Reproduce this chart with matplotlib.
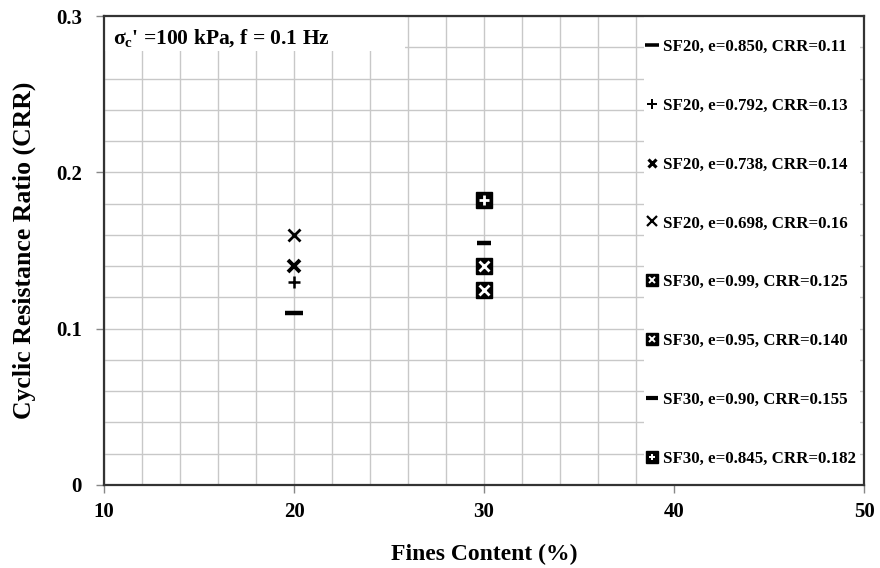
import matplotlib
matplotlib.use("Agg")
import matplotlib.pyplot as plt
from matplotlib.patches import Rectangle
from matplotlib.legend_handler import HandlerTuple
from matplotlib.lines import Line2D
from matplotlib.ticker import MultipleLocator

plt.rcParams['font.family'] = ['Liberation Serif', 'DejaVu Serif']
plt.rcParams['font.weight'] = 'bold'
plt.rcParams['mathtext.fontset'] = 'custom'
plt.rcParams['mathtext.rm'] = 'Liberation Serif:bold'
plt.rcParams['mathtext.it'] = 'Liberation Serif:bold'
plt.rcParams['mathtext.bf'] = 'Liberation Serif:bold'

# Data
fc_sf20 = [20, 20, 20, 20]
crr_sf20 = [0.11, 0.13, 0.14, 0.16]
labels_sf20 = ["SF20, e=0.850, CRR=0.11", "SF20, e=0.792, CRR=0.13",
               "SF20, e=0.738, CRR=0.14", "SF20, e=0.698, CRR=0.16"]
fc_sf30 = [30, 30, 30, 30]
crr_sf30 = [0.125, 0.140, 0.155, 0.182]
labels_sf30 = ["SF30, e=0.99, CRR=0.125", "SF30, e=0.95, CRR=0.140",
               "SF30, e=0.90, CRR=0.155", "SF30, e=0.845, CRR=0.182"]
xticks = [10, 20, 30, 40, 50]
yticks = [0, 0.1, 0.2, 0.3]
ytick_labels = ["0", "0.1", "0.2", "0.3"]

fig = plt.figure(figsize=(8.8, 5.68), dpi=100)
ax = fig.add_axes([104/880, 1-485/568, 760/880, 469/568])
ax.set_xlim(10, 50)
ax.set_ylim(0, 0.3)

ax.xaxis.set_minor_locator(MultipleLocator(2))
ax.yaxis.set_minor_locator(MultipleLocator(0.02))
ax.set_xticks(xticks)
ax.set_yticks(yticks)
ax.set_yticklabels(ytick_labels)
ax.grid(True, which='both', color='#c8c8c8', lw=1.0, zorder=0)
ax.set_axisbelow(True)
ax.tick_params(which='minor', length=0)
ax.tick_params(which='major', direction='out', length=6, width=1, color='#888888',
               labelsize=15)
ax.tick_params(axis='x', pad=6)
ax.tick_params(axis='y', pad=10)
for sp in ax.spines.values():
    sp.set_color('#333333')
    sp.set_linewidth(1.6)
for t in ax.get_xticklabels() + ax.get_yticklabels():
    t.set_fontweight('bold')

ax.set_xlabel("Fines Content (%)", fontsize=17, fontweight='bold', labelpad=16)
ax.set_ylabel("Cyclic Resistance Ratio (CRR)", fontsize=18.5, fontweight='bold', labelpad=14)

# white boxes
ax.add_patch(Rectangle((0, (485-51)/469), (405-104)/760, 1, transform=ax.transAxes,
                       facecolor='white', edgecolor='none', zorder=1))
ax.add_patch(Rectangle((0.711, 0.003), 0.284, 0.994, transform=ax.transAxes,
                       facecolor='white', edgecolor='none', zorder=1))
ax.text(0.012, 0.953, r"$\sigma_\mathregular{c}$' =100 kPa, f = 0.1 Hz", transform=ax.transAxes,
        fontsize=15.5, fontweight='bold', va='center', ha='left', zorder=3)

k = 'black'
# SF20 markers
sf20_styles = [dict(marker='_', ms=13, mew=3.2, color=k),
               dict(marker='+', ms=9, mew=1.8, color=k),
               dict(marker='x', ms=8, mew=2.8, color=k),
               dict(marker='x', ms=9, mew=2.0, color=k)]
handles = []
for x, y, st in zip(fc_sf20, crr_sf20, sf20_styles):
    ax.plot([x], [y], ls='none', zorder=4, **st)
    handles.append(Line2D([], [], ls='none', **{**st, 'ms': st['ms']*0.75, 'mew': st['mew']*0.8}))

# SF30 markers
def sq_white(x, y, inner):
    ax.plot([x], [y], ls='none', marker='s', ms=11, color=k, mec=k, zorder=4)
    ax.plot([x], [y], ls='none', marker=inner, ms=7, mew=2.0, color='white', zorder=5)

for x, y, kind in zip(fc_sf30, crr_sf30, ['sx', 'sx', 'dash', 'splus']):
    if kind == 'sx':
        sq_white(x, y, 'x')
    elif kind == 'splus':
        sq_white(x, y, '+')
    else:
        ax.plot([x], [y], ls='none', marker='_', ms=10, mew=3.2, color=k, zorder=4)

def sq_handle(inner):
    return (Line2D([], [], ls='none', marker='s', ms=8, color=k),
            Line2D([], [], ls='none', marker=inner, ms=5, mew=1.4, color='white'))

handles += [sq_handle('x'), sq_handle('x'),
            Line2D([], [], ls='none', marker='_', ms=8, mew=3, color=k),
            sq_handle('+')]
labels = labels_sf20 + labels_sf30

leg = ax.legend(handles, labels, loc='center left', bbox_to_anchor=(0.713, 0.495),
                frameon=False, labelspacing=2.53, handlelength=0.7,
                handletextpad=0.3, borderaxespad=0, borderpad=0,
                handler_map={tuple: HandlerTuple(ndivide=1, pad=0)},
                prop={'family': 'Liberation Serif', 'weight': 'bold', 'size': 12.2})
leg.set_zorder(6)

fig.savefig("out.png", dpi=100)
